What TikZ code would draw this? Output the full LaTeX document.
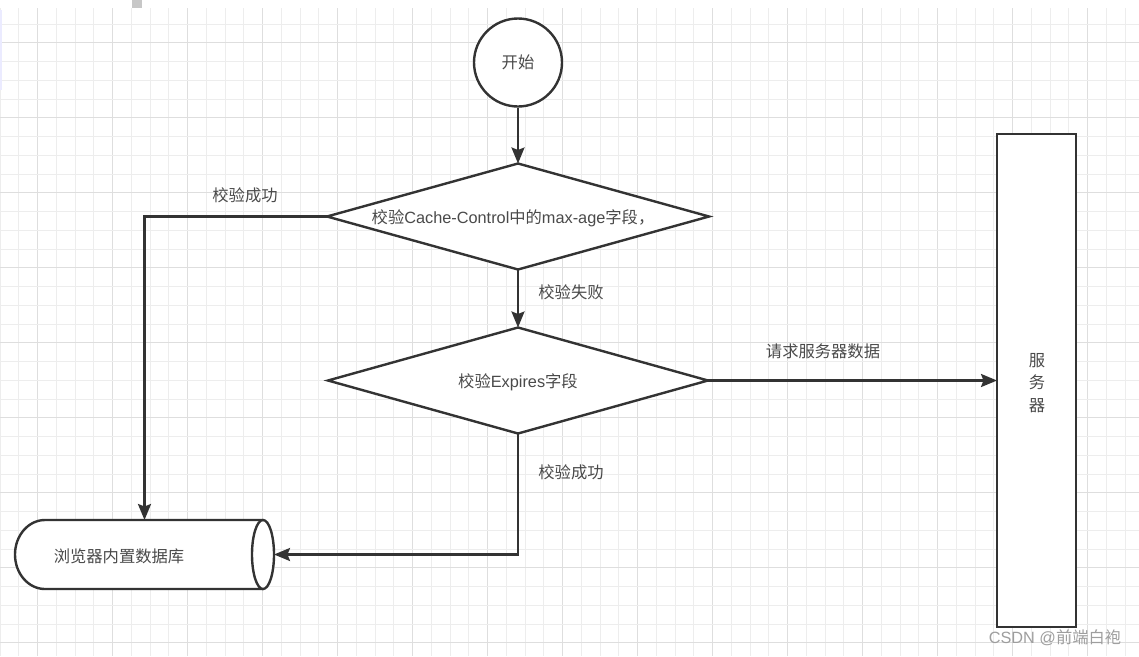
\documentclass[tikz,border=0pt]{standalone}
\usepackage{fontspec}
\newfontfamily\cjk{Noto Sans CJK SC}
\newfontfamily\lat{Liberation Sans}
\usetikzlibrary{arrows.meta,shapes.geometric}
\definecolor{lineC}{HTML}{333333}
\definecolor{textC}{HTML}{4A4A4A}
\definecolor{gridMinor}{HTML}{EDEDED}
\definecolor{gridMajor}{HTML}{DEDEDE}
\tikzset{
  shapeline/.style={draw=lineC, line width=2.4pt, fill=white},
  conn/.style={draw=lineC, line width=2.4pt, -{Stealth[length=16pt,width=13pt,inset=2.5pt]}},
  lbl/.style={font=\cjk\fontsize{16.3}{19}\selectfont, text=textC, inner sep=0pt},
}
\begin{document}
\begin{tikzpicture}[x=1pt,y=-1pt]
\useasboundingbox (0,0) rectangle (1139,656);
\fill[white] (0,0) rectangle (1139,656);
% grid
\foreach \k in {0,...,61} {
  \pgfmathsetmacro{\xx}{18.75*\k}
  \pgfmathtruncatemacro{\mm}{mod(\k,4)}
  \ifnum\mm=2 \draw[gridMajor, line width=1pt] (\xx,8) -- (\xx,656);
  \else \draw[gridMinor, line width=1pt] (\xx,8) -- (\xx,656); \fi
}
\foreach \k in {1,...,34} {
  \pgfmathsetmacro{\yy}{5.3+18.75*\k}
  \pgfmathtruncatemacro{\mm}{mod(\k,4)}
  \ifnum\mm=2 \draw[gridMajor, line width=1pt] (0,\yy) -- (1139,\yy);
  \else \draw[gridMinor, line width=1pt] (0,\yy) -- (1139,\yy); \fi
}
\fill[black!22] (132,0) rectangle (142,8);
\fill[blue!8] (0,10) rectangle (2,90);

% nodes
\node[circle, shapeline, minimum size=88pt, inner sep=0pt] (start) at (518,62.5) {};
\node[lbl] at (start.center) {开始};

\node[diamond, shapeline, minimum width=382pt, minimum height=106pt, inner sep=0pt, outer sep=0pt] (d1) at (518,216.5) {};
\node[lbl] at (513,218) {校验{\lat Cache-Control}中的{\lat max-age}字段，};

\node[diamond, shapeline, minimum width=380pt, minimum height=106pt, inner sep=0pt, outer sep=0pt] (d2) at (518,380.5) {};
\node[lbl] at (518,382) {校验{\lat Expires}字段};

\node[rectangle, shapeline, minimum width=79pt, minimum height=493pt, inner sep=0pt, outer sep=0pt] (srv) at (1036.5,380.5) {};
\node[lbl, align=center, font=\cjk\fontsize{16.3}{22.5}\selectfont] at (1037,383) {服\\务\\器};

% database (horizontal cylinder)
\node[rectangle, minimum width=259pt, minimum height=69pt, inner sep=0pt, outer sep=0pt] (db) at (144.5,554.5) {};
\draw[shapeline] (263,520) -- (45,520) arc[start angle=-90, end angle=-270, x radius=30, y radius=34.5] -- (263,589);
\draw[shapeline] (263,554.5) ellipse [x radius=11, y radius=34.5];
\node[lbl] at (119,556) {浏览器内置数据库};

% connectors
\draw[conn] (start.south) -- (d1.north);
\draw[conn] (d1.south) -- (d2.north);
\draw[conn] (d1.west) -| (db.north);
\draw[conn] (d2.south) |- (db.east);
\draw[conn] (d2.east) -- (srv.west);

% labels
\node[lbl] at (245,195) {校验成功};
\node[lbl] at (571,292) {校验失败};
\node[lbl] at (571,472) {校验成功};
\node[lbl] at (823,351) {请求服务器数据};

% watermark
\node[lbl, text=black!38] at (1055,638) {{\lat CSDN @}前端白袍};
\end{tikzpicture}
\end{document}
